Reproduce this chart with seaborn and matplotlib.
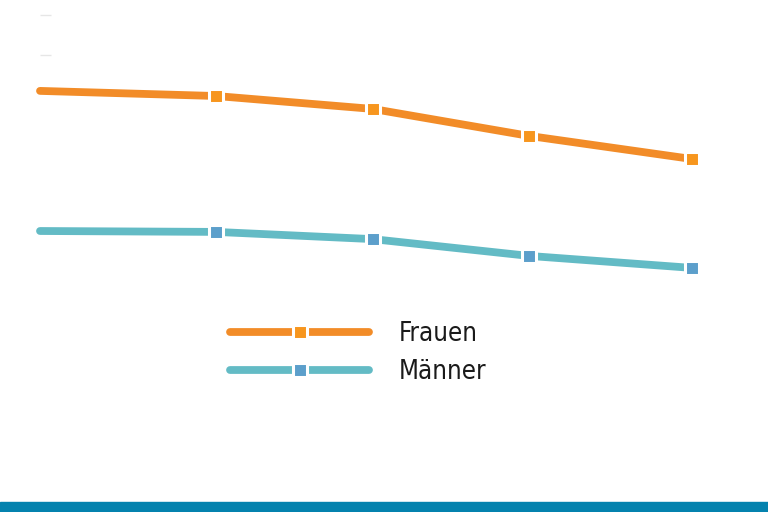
import matplotlib
matplotlib.use("Agg")
import matplotlib.pyplot as plt
from matplotlib.patches import Rectangle
import pandas as pd
import seaborn as sns

# -------------------- Data --------------------
x_pos = [0, 5.4, 10.2, 15.0, 20.0]
frauen = [69.7, 68.0, 63.7, 54.7, 47.0]
maenner = [23.0, 22.7, 20.3, 14.7, 10.7]
labels = ["Frauen", "Männer"]
line_colors = ["#F28C28", "#63BBC5"]
marker_colors = ["#F7961E", "#5C9FCB"]
tick_vals = [81.7, 95.0]

sns.set_theme(style="white")
plt.rcParams["font.family"] = ["DejaVu Sans"]
plt.rcParams["font.stretch"] = "condensed"

fig = plt.figure(figsize=(7.68, 5.12), dpi=100)
ax = fig.add_axes([40 / 768, 1 - 300 / 512, 652 / 768, 300 / 512])

for vals, lab, lc, mc in zip([frauen, maenner], labels, line_colors, marker_colors):
    df = pd.DataFrame({"x": x_pos, "wert": vals})
    sns.lineplot(data=df, x="x", y="wert", ax=ax, color=lc, linewidth=5.6,
                 marker="s", markevery=[1, 2, 3, 4], markersize=10.5,
                 markerfacecolor=mc, markeredgecolor="white", markeredgewidth=2.2,
                 solid_capstyle="round", label=lab, clip_on=False)

ax.set_xlim(x_pos[0], x_pos[-1])
ax.set_ylim(0, 100)
ax.set_xlabel("")
ax.set_ylabel("")
ax.set_xticks([])
ax.set_yticks(tick_vals)
ax.set_yticklabels([])
ax.tick_params(axis="y", direction="in", length=8, width=1, color="#E6E6E6", left=True)
for s in ax.spines.values():
    s.set_visible(False)
ax.patch.set_alpha(0)

leg = ax.legend(loc="center left", bbox_to_anchor=(207 / 768, 1 - 353 / 512),
                bbox_transform=fig.transFigure, frameon=False, fontsize=18.5,
                handlelength=5.4, handletextpad=1.15, labelspacing=0.5,
                numpoints=1)
for t in leg.get_texts():
    t.set_color("#1A1A1A")

# blue band along the bottom
fig.patches.append(Rectangle((0, 0), 1, 10 / 512, transform=fig.transFigure,
                             color="#0482AE", zorder=0))

fig.savefig("out.png", dpi=100)
